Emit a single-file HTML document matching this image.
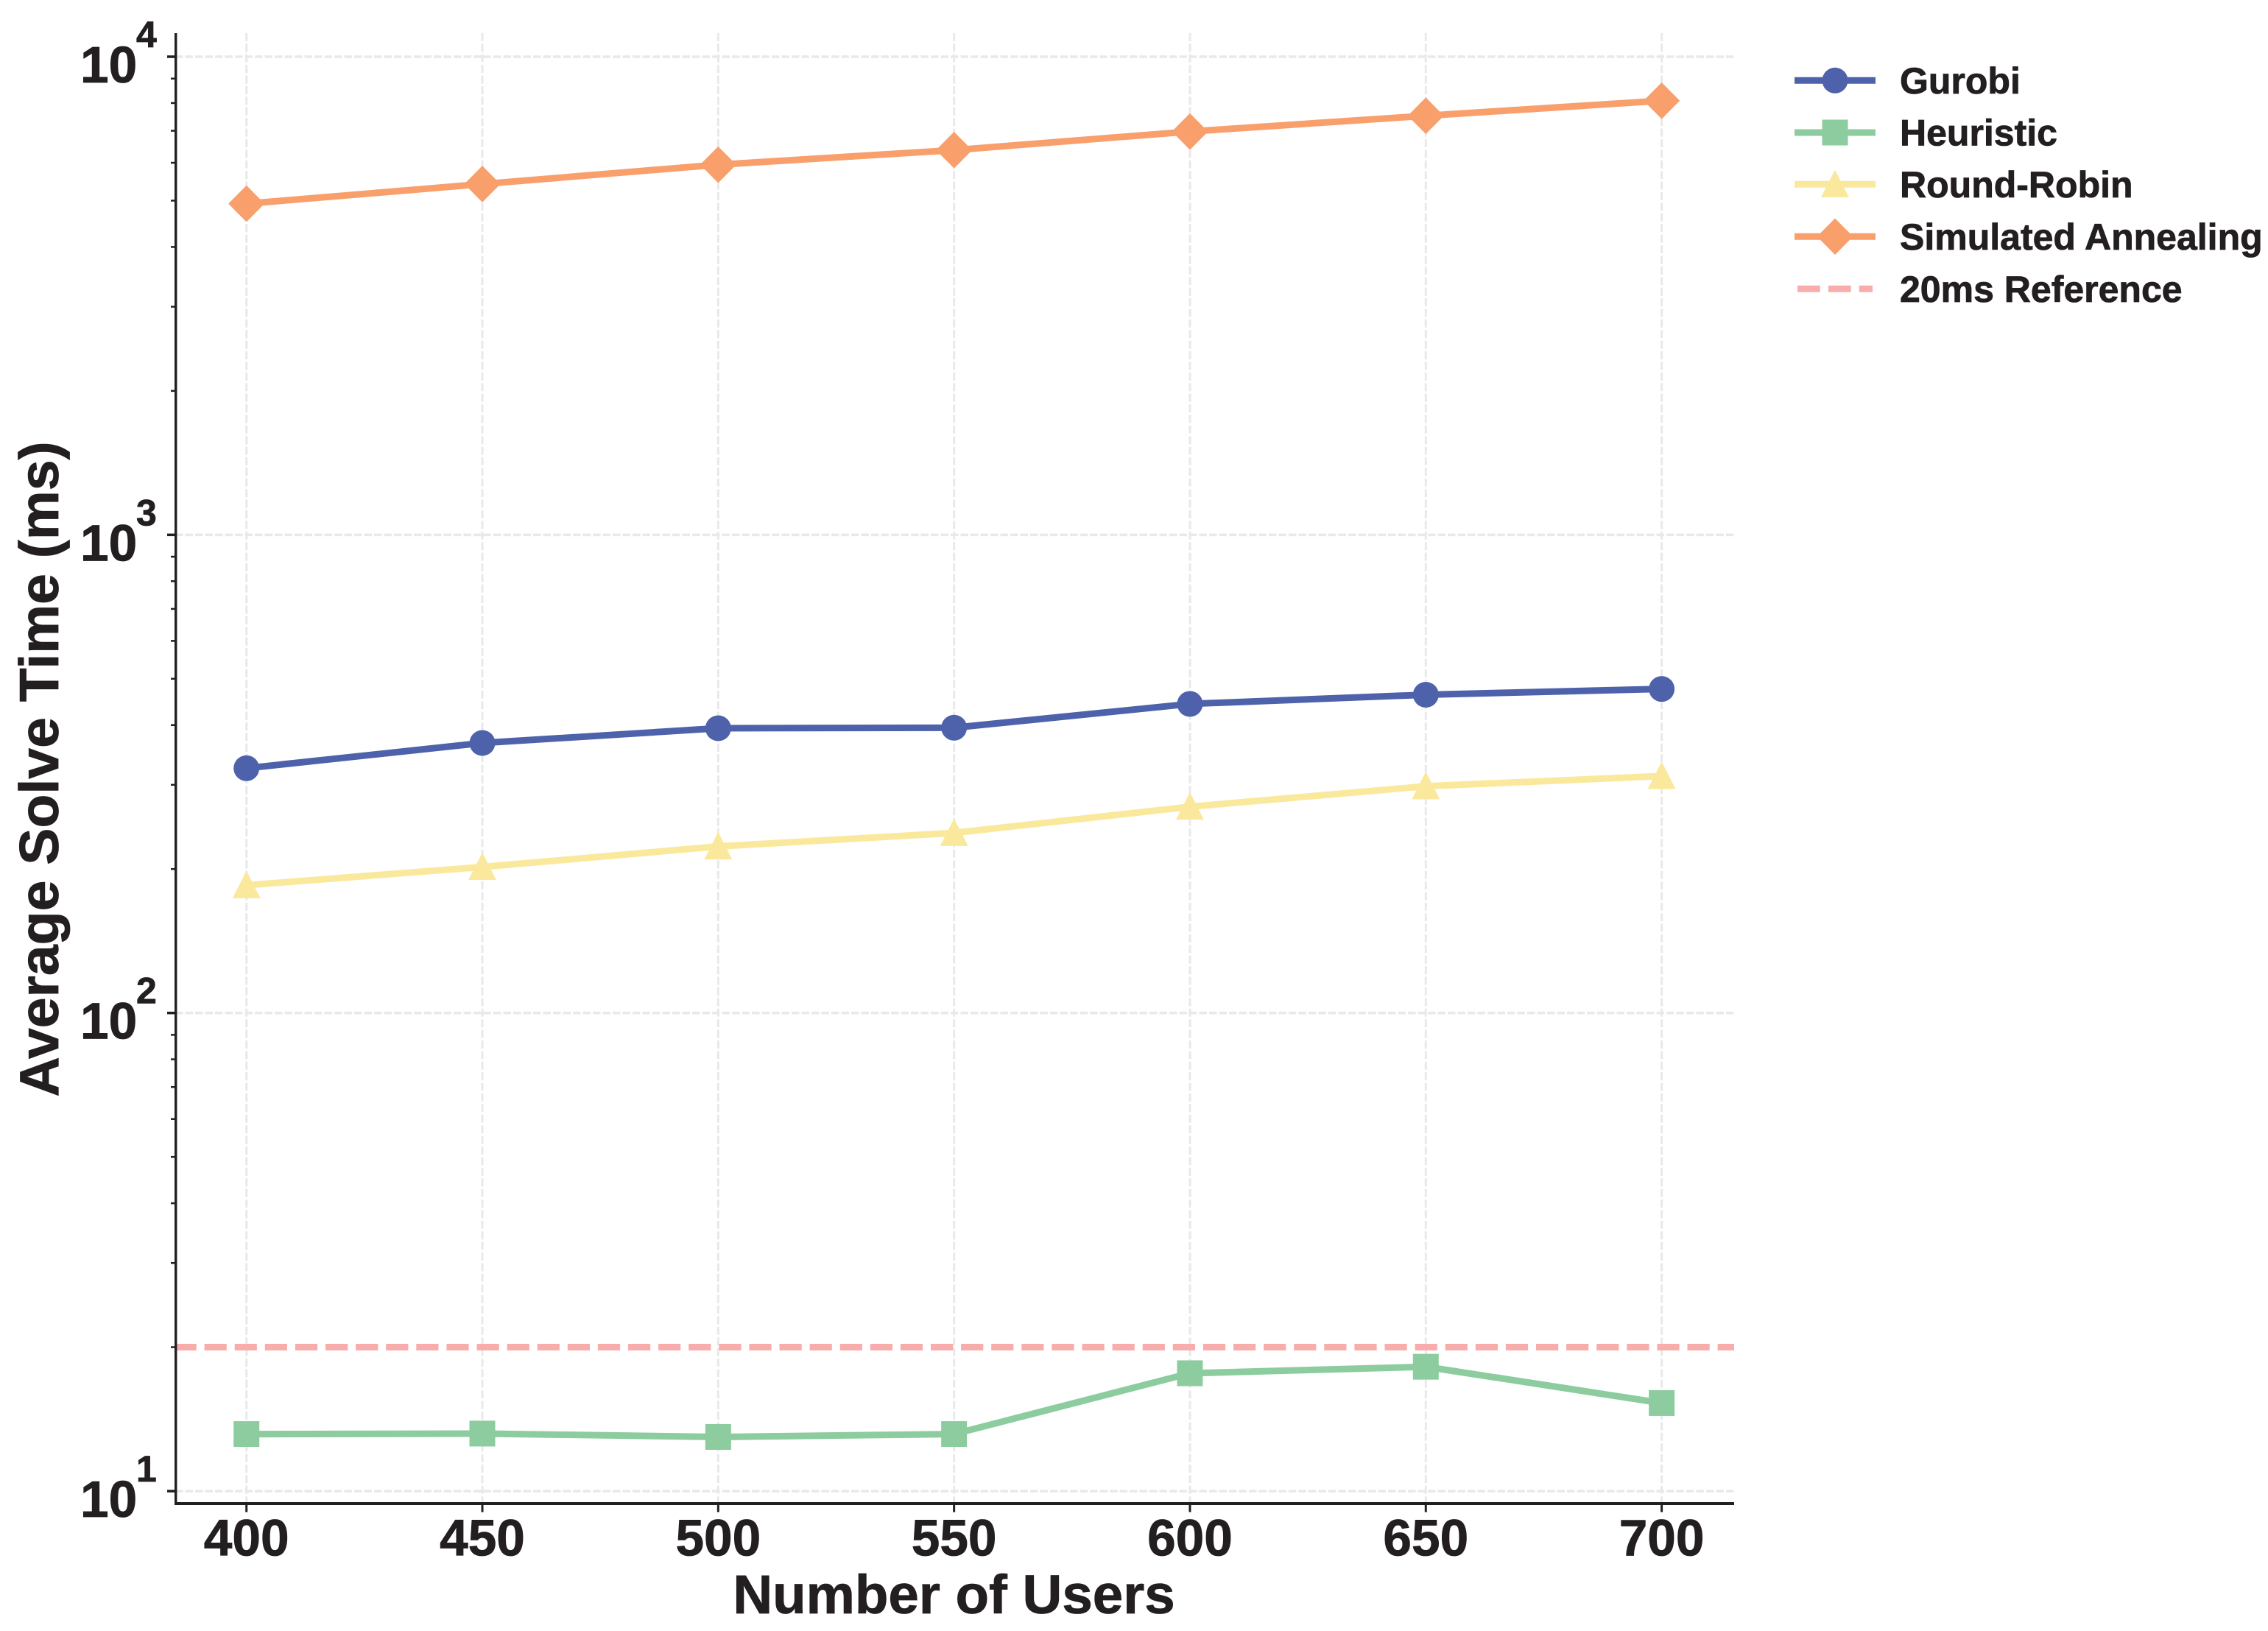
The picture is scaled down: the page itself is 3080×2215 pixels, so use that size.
<!DOCTYPE html>
<html lang="en">
<head>
<meta charset="utf-8">
<title>Average Solve Time vs Number of Users</title>
<style>
html,body{margin:0;padding:0;background:#fff;width:3080px;height:2215px;overflow:hidden}
svg{display:block}
text{font-family:"Liberation Sans",Arial,sans-serif;font-weight:700;fill:#231F20;stroke:#231F20;stroke-width:0.8px}
</style>
</head>
<body>
<svg id="chart" xmlns="http://www.w3.org/2000/svg" width="3080" height="2215" viewBox="0 0 3080 2215">
  <rect x="0" y="0" width="3080" height="2215" fill="#ffffff"/>
  <g id="grid"></g>
  <g id="series"></g>
  <g id="axes">
    <rect x="237" y="45" width="3.4" height="1999" fill="#231F20"/>
    <rect x="237" y="2040" width="2118" height="4" fill="#231F20"/>
  </g>
  <text x="1295.5" y="2191" font-size="74.5" text-anchor="middle">Number of Users</text>
  <text transform="translate(79 1044.5) rotate(-90)" x="0" y="0" font-size="75.2" text-anchor="middle">Average Solve Time (ms)</text>
  <g>
    <g>
      <line x1="2437" x2="2547" y1="109.3" y2="109.3" stroke="#4E62AB" stroke-width="9"/>
      <circle cx="2492" cy="109.3" r="17.5" fill="#4E62AB"/>
      <text x="2580" y="127" font-size="50">Gurobi</text>
    </g>
    <g>
      <line x1="2437" x2="2547" y1="180" y2="180" stroke="#8CCC9F" stroke-width="9"/>
      <rect x="2474.5" y="162.5" width="35" height="35" fill="#8CCC9F"/>
      <text x="2580" y="197.5" font-size="50">Heuristic</text>
    </g>
    <g>
      <line x1="2437" x2="2547" y1="250.3" y2="250.3" stroke="#FAE99C" stroke-width="9"/>
      <polygon points="2492,230.6 2511,268 2473,268" fill="#FAE99C"/>
      <text x="2580" y="268" font-size="50">Round-Robin</text>
    </g>
    <g>
      <line x1="2437" x2="2547" y1="321.3" y2="321.3" stroke="#F89F6C" stroke-width="9"/>
      <polygon points="2492,296.5 2516.5,321.3 2492,346 2467.5,321.3" fill="#F89F6C"/>
      <text x="2580" y="339" font-size="50">Simulated Annealing</text>
    </g>
    <g>
      <line x1="2441" x2="2543" y1="392.3" y2="392.3" stroke="#F8ACAC" stroke-width="9" stroke-dasharray="30.7 11.2"/>
      <text x="2580" y="410" font-size="50">20ms Reference</text>
    </g>
  </g>
</svg>
<script>
const users = [400, 450, 500, 550, 600, 650, 700];
const gurobi = [325, 367, 394, 395, 443, 463, 476];
const heuristic = [13.16, 13.19, 12.98, 13.16, 17.64, 18.2, 15.28];
const roundRobin = [185, 202, 223, 238, 270, 298, 313];
const simulatedAnnealing = [4927, 5416, 5945, 6378, 6974, 7525, 8090];
const referenceValue = [20];
const yTickExponents = [1, 2, 3, 4];
const yMinorMultiples = [2, 3, 4, 5, 6, 7, 8, 9];
const yTickLabels = ['10', '10', '10', '10'];
const yTickSuperscripts = ['1', '2', '3', '4'];
const xTickLabels = ['400', '450', '500', '550', '600', '650', '700'];

const NS = 'http://www.w3.org/2000/svg';
const PLOT = {left: 238, right: 2355, top: 45, bottom: 2042};
const INK = '#231F20';
const GRID = '#E8E9EA';

function xScale(v) { return 334.7 + (v - 400) * (2256.6 - 334.7) / 300; }
function yScale(v) { return 2025 - (Math.log10(v) - 1) * 649.33; }

function make(tag, parent, attrs) {
  const el = document.createElementNS(NS, tag);
  for (const k in attrs) el.setAttribute(k, attrs[k]);
  parent.appendChild(el);
  return el;
}

const gridG = document.getElementById('grid');
const seriesG = document.getElementById('series');
const axesG = document.getElementById('axes');
const svgRoot = document.getElementById('chart');

users.forEach(function (u, i) {
  const x = xScale(u);
  const g = make('line', gridG, {x1: x, x2: x, y1: PLOT.top, y2: PLOT.bottom, stroke: GRID, 'stroke-width': 3, 'stroke-dasharray': '11 3.4'});
  
  
  const t = make('rect', axesG, {x: x - 1.5, y: 2044, width: 3, height: 9.5, fill: INK});
  
  
  const l = make('text', svgRoot, {x: x, y: 2112.7, 'font-size': 69.4, 'text-anchor': 'middle'});
  
  
  l.textContent = xTickLabels[i];
});

yTickExponents.forEach(function (e, i) {
  const v = Math.pow(10, e);
  const y = yScale(v);
  const g = make('line', gridG, {x1: PLOT.left, x2: PLOT.right, y1: y, y2: y, stroke: GRID, 'stroke-width': 3.5, 'stroke-dasharray': '10.5 3'});
  
  
  const t = make('rect', axesG, {x: 227, y: y - 1.75, width: 11, height: 3.5, fill: INK});
  
  
  const l = make('text', svgRoot, {x: 109, y: y + 35, 'font-size': 69.4});
  
  
  l.textContent = yTickLabels[i];
  const s = make('text', svgRoot, {x: 185, y: y - 13, 'font-size': 50});
  
  
  s.textContent = yTickSuperscripts[i];
  if (e < 4) {
    yMinorMultiples.forEach(function (m) {
      const my = yScale(m * v);
      const mt = make('rect', axesG, {x: 232, y: my - 1.25, width: 6, height: 2.5, fill: INK});
      
      
    });
  }
});

function drawLine(values, color, name) {
  const pts = values.map(function (v, i) { return xScale(users[i]) + ',' + yScale(v); }).join(' ');
  const line = make('polyline', seriesG, {points: pts, fill: 'none', stroke: color, 'stroke-width': 9, 'stroke-linejoin': 'round'});
  
  
}

drawLine(gurobi, '#4E62AB', 'gurobi');
gurobi.forEach(function (v, i) {
  const m = make('circle', seriesG, {cx: xScale(users[i]), cy: yScale(v), r: 17.5, fill: '#4E62AB'});
  
  
});

drawLine(heuristic, '#8CCC9F', 'heuristic');
heuristic.forEach(function (v, i) {
  const m = make('rect', seriesG, {x: xScale(users[i]) - 17.5, y: yScale(v) - 17.5, width: 35, height: 35, fill: '#8CCC9F'});
  
  
});

drawLine(roundRobin, '#FAE99C', 'round-robin');
roundRobin.forEach(function (v, i) {
  const x = xScale(users[i]);
  const y = yScale(v);
  const m = make('polygon', seriesG, {points: x + ',' + (y - 19.7) + ' ' + (x + 19) + ',' + (y + 17.7) + ' ' + (x - 19) + ',' + (y + 17.7), fill: '#FAE99C'});
  
  
});

drawLine(simulatedAnnealing, '#F89F6C', 'simulated-annealing');
simulatedAnnealing.forEach(function (v, i) {
  const x = xScale(users[i]);
  const y = yScale(v);
  const m = make('polygon', seriesG, {points: x + ',' + (y - 24.8) + ' ' + (x + 24.6) + ',' + y + ' ' + x + ',' + (y + 24.8) + ' ' + (x - 24.6) + ',' + y, fill: '#F89F6C'});
  
  
});

const refY = yScale(referenceValue[0]);
const refLine = make('line', seriesG, {x1: PLOT.left, x2: PLOT.right, y1: refY, y2: refY, stroke: '#F8ACAC', 'stroke-width': 9, 'stroke-dasharray': '30.2 10.9', 'stroke-dashoffset': 1.5});


</script>
</body>
</html>
